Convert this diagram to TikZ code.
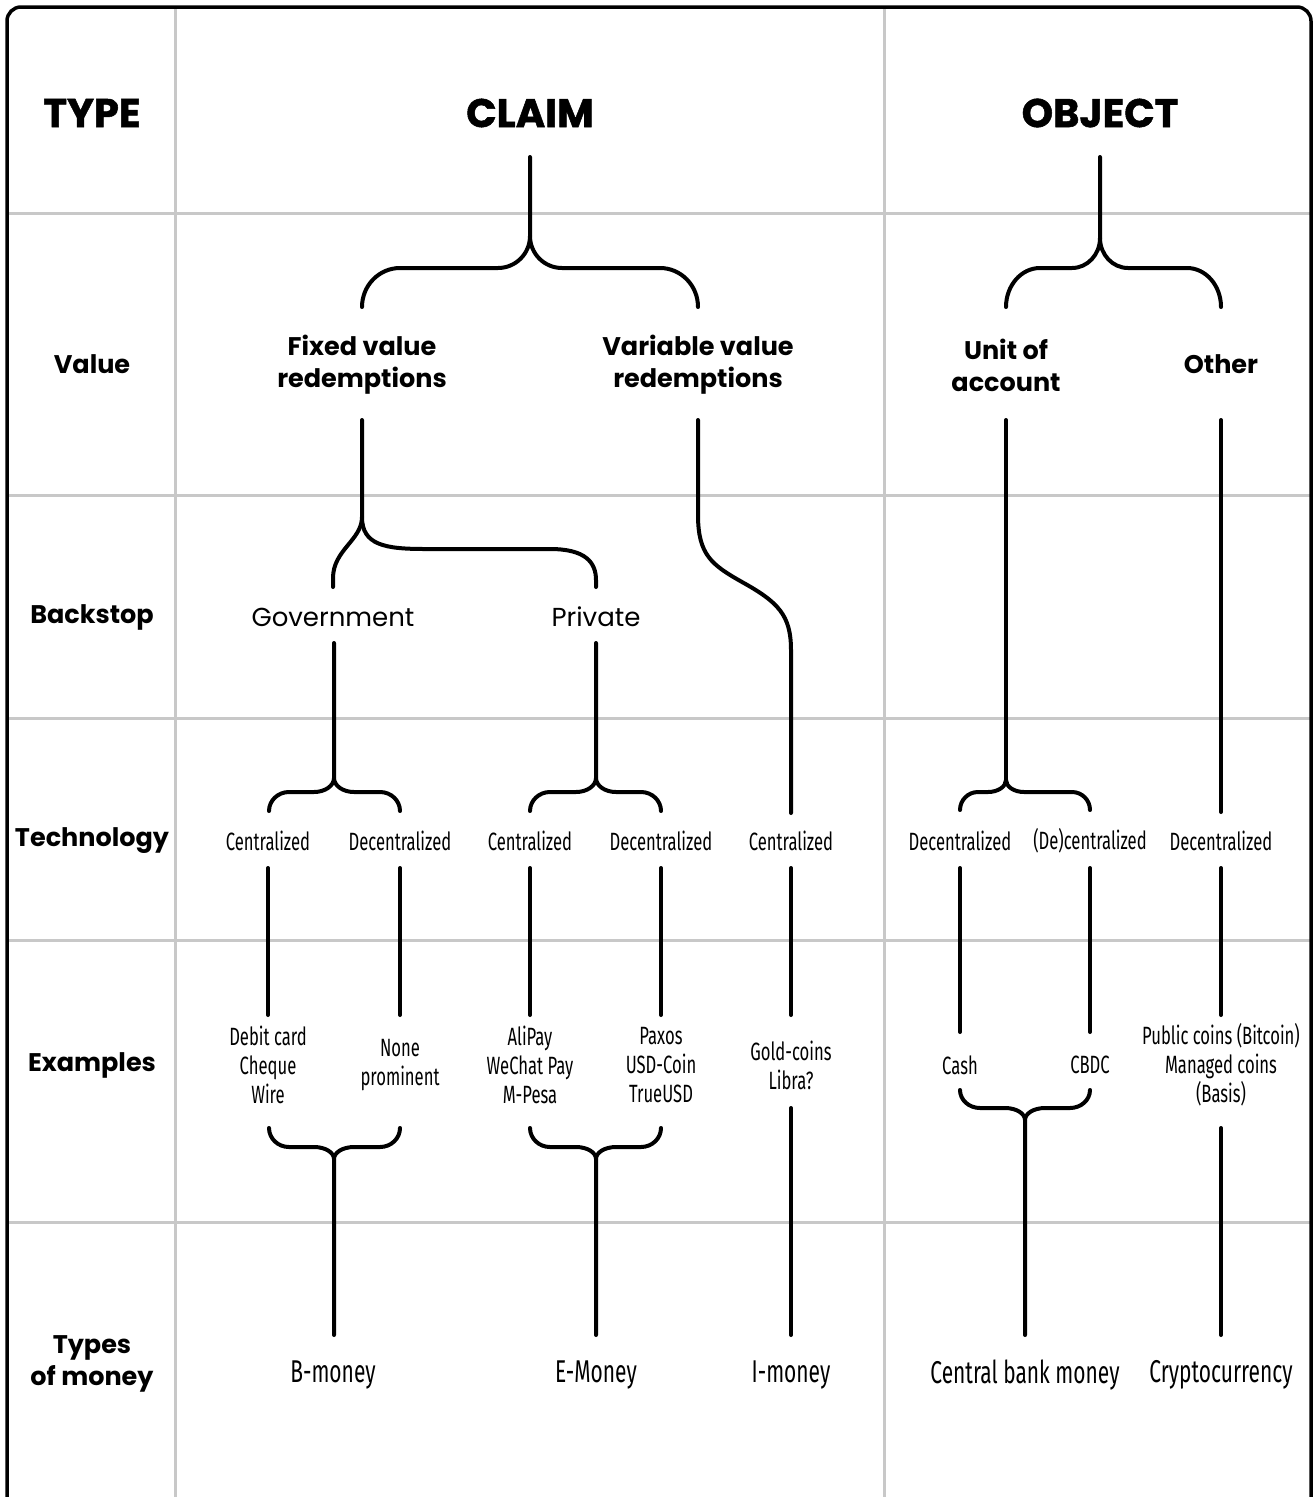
\documentclass[tikz,border=0pt]{standalone}
\usepackage{fontspec}
\setmainfont{Poppins}
\newfontfamily\heavyfont{Poppins}[BoldFeatures={FakeBold=1.3}]
\newfontfamily\condfont{Fira Sans}[FakeStretch=0.665]
\definecolor{rule}{RGB}{200,200,200}

% brace: arms at xl and xr ending at ye, bar at yh, stem from junction to ys
% #7 corner radius, #8 half-width of the centre curve, #9 signed rise of the centre curve
\newcommand\tbrace[9]{%
  \draw[wire] (#1,#4) .. controls (#1,{#4+0.552*(#5-#4)}) and ({#1+0.448*#7},#5) .. ({#1+#7},#5)
    -- ({#2-#8},#5) .. controls ({#2-0.448*#8},#5) and (#2,{#5+0.448*#9}) .. (#2,{#5+#9}) -- (#2,#6);
  \draw[wire] (#3,#4) .. controls (#3,{#4+0.552*(#5-#4)}) and ({#3-0.448*#7},#5) .. ({#3-#7},#5)
    -- ({#2+#8},#5) .. controls ({#2+0.448*#8},#5) and (#2,{#5+0.448*#9}) .. (#2,{#5+#9});
}

\begin{document}
\begin{tikzpicture}[x=1pt,y=-1pt,
  wire/.style={line width=4pt,line cap=round,black},
  gridline/.style={line width=3pt,rule},
  frame/.style={line width=3.5pt,rounded corners=14pt,black},
  hdr/.style={font=\heavyfont\fontsize{40}{44}\selectfont\bfseries},
  rowlab/.style={font=\fontsize{25.5}{32}\selectfont\bfseries,align=center},
  backlab/.style={font=\fontsize{26}{30}\selectfont},
  techlab/.style={font=\condfont\fontsize{25}{29}\selectfont,align=center},
  moneylab/.style={font=\condfont\fontsize{31.5}{35}\selectfont},
  every node/.style={inner sep=0pt}]
\useasboundingbox (0,0) rectangle (1314,1497);

% table rules
\foreach \gx in {175,884} \draw[gridline] (\gx,7) -- (\gx,1497);
\foreach \gy in {213,495,718,940,1222} \draw[gridline] (7,\gy) -- (1311,\gy);
\draw[frame] (7,1510) -- (7,7) -- (1311,7) -- (1311,1510);

% column headers
\node[hdr] (type) at (92,113) {TYPE};
\node[hdr] (claim) at (530,113) {CLAIM};
\node[hdr] (object) at (1100,113) {OBJECT};

% row labels
\node[rowlab] (rvalue) at (92,364) {Value};
\node[rowlab] (rback) at (92,617) {Backstop};
\node[rowlab] (rtech) at (92,841) {Technology};
\node[rowlab] (rex) at (92,1065) {Examples};
\node[rowlab] (rtypes) at (92,1364) {Types\\of money};

% value level
\node[rowlab] (fixed) at (362,365) {Fixed value\\redemptions};
\node[rowlab] (variable) at (698,365) {Variable value\\redemptions};
\node[rowlab] (unit) at (1006,365) {Unit of\\account};
\node[rowlab] (other) at (1221,364) {Other};

% backstop level
\node[backlab] (gov) at (333,617) {Government};
\node[backlab] (priv) at (596,617) {Private};

% technology level
\node[techlab] (t1) at (268,841) {Centralized};
\node[techlab] (t2) at (400,841) {Decentralized};
\node[techlab] (t3) at (530,841) {Centralized};
\node[techlab] (t4) at (661,841) {Decentralized};
\node[techlab] (t5) at (791,841) {Centralized};
\node[techlab] (t6) at (960,841) {Decentralized};
\node[techlab] (t7) at (1090,841) {(De)centralized};
\node[techlab] (t8) at (1221,841) {Decentralized};

% examples level
\node[techlab] (e1) at (268,1065) {Debit card\\Cheque\\Wire};
\node[techlab] (e2) at (400,1065) {None\\prominent};
\node[techlab] (e3) at (530,1065) {AliPay\\WeChat Pay\\M-Pesa};
\node[techlab] (e4) at (661,1065) {Paxos\\USD-Coin\\TrueUSD};
\node[techlab] (e5) at (791,1065) {Gold-coins\\Libra?};
\node[techlab] (e6) at (960,1065) {Cash};
\node[techlab] (e7) at (1090,1065) {CBDC};
\node[techlab] (e8) at (1221,1065) {Public coins (Bitcoin)\\Managed coins\\(Basis)};

% types of money
\node[moneylab] (m1) at (333,1375) {B-money};
\node[moneylab] (m2) at (596,1375) {E-Money};
\node[moneylab] (m3) at (791,1375) {I-money};
\node[moneylab] (m4) at (1025,1375) {Central bank money};
\node[moneylab] (m5) at (1221,1375) {Cryptocurrency};

% claim / object braces
\tbrace{362}{530}{698}{307}{268}{157}{38}{32}{-32}
\tbrace{1006}{1100}{1221}{307}{268}{157}{34}{28}{-30}

% fixed value splits into government and private backstops
\draw[wire] (fixed.center |- 0,420) -- (362,517)
  .. controls (362,540) and (333,550) .. (333,578) -- (gov.center |- 0,587);
\draw[wire] (362,517) .. controls (362,545) and (385,549) .. (425,549)
  -- (550,549) .. controls (585,549) and (596,562) .. (596,580) -- (priv.center |- 0,587);

% variable value runs down to the centralized column
\draw[wire] (variable.center |- 0,420) -- (698,515)
  .. controls (698,555) and (712,565) .. (742,582)
  .. controls (778,602) and (791,615) .. (791,650) -- (t5.center |- 0,813);

% unit of account and other
\draw[wire] (unit.center |- 0,420) -- (1006,780);
\tbrace{960}{1006}{1090}{810}{792}{780}{18}{18}{-12}
\draw[wire] (other.center |- 0,420) -- (t8.center |- 0,812);

% backstop to technology braces
\tbrace{269}{334}{400}{811}{792}{643}{20}{20}{-14}
\tbrace{530}{596}{661}{811}{792}{643}{20}{20}{-14}

% technology to examples
\foreach \n in {t1,t2,t3,t4,t5,t8} \draw[wire] (\n.center |- 0,868) -- (\n.center |- 0,1015);
\foreach \n in {t6,t7} \draw[wire] (\n.center |- 0,868) -- (\n.center |- 0,1032);

% examples to types of money
\tbrace{269}{334}{400}{1128}{1147}{1335}{20}{20}{12}
\tbrace{530}{596}{661}{1128}{1147}{1335}{20}{20}{12}
\tbrace{960}{1025}{1090}{1090}{1108}{1335}{20}{20}{12}
\draw[wire] (e5.center |- 0,1108) -- (m3.center |- 0,1335);
\draw[wire] (e8.center |- 0,1128) -- (m5.center |- 0,1335);
\end{tikzpicture}
\end{document}
